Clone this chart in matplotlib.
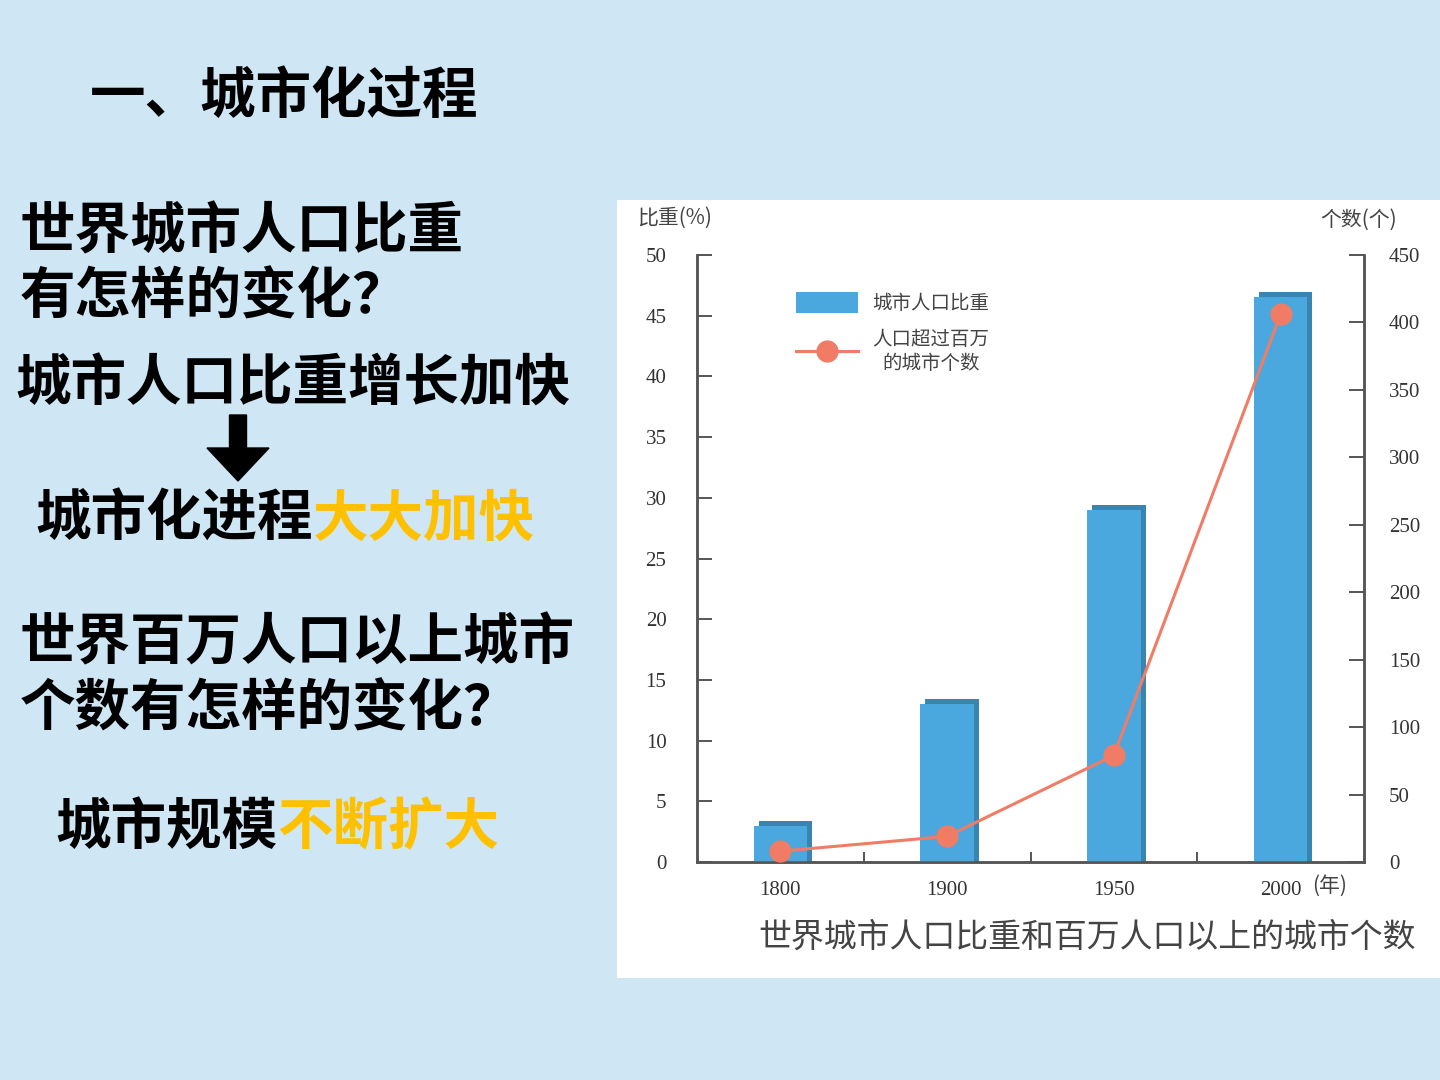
import matplotlib.pyplot as plt
import matplotlib.transforms as mtrans
from matplotlib.patches import Rectangle, FancyArrow, Patch
from matplotlib.lines import Line2D
import numpy as np

plt.rcParams['font.family'] = ['Noto Sans CJK SC', 'DejaVu Sans']

# data
years = ['1800', '1900', '1950', '2000']
urban_share = [3, 13, 29, 46.5]        # 城市人口比重 (%)
million_cities = [8, 19, 79, 406]      # 人口超过百万的城市个数
left_ticks = [0, 5, 10, 15, 20, 25, 30, 35, 40, 45, 50]
right_ticks = [0, 50, 100, 150, 200, 250, 300, 350, 400, 450]

W, H = 1440, 1080
BG = '#CFE7F4'
BLUE = '#4AA8DE'
BLUE_DARK = '#3A84B2'
RED = '#F07C66'
AXC = '#555555'
YEL = '#FFC000'


def fx(x):
    return x / W


def fy(y):
    return 1 - y / H


fig = plt.figure(figsize=(14.4, 10.8), dpi=100)
fig.patch.set_facecolor(BG)

# white chart panel
fig.add_artist(Rectangle((fx(617), fy(978)), fx(1440 - 617), (978 - 200) / H,
                         transform=fig.transFigure, facecolor='white',
                         edgecolor='none', zorder=0))

# slide text
big = dict(fontsize=40, fontweight='heavy', va='center', ha='left', color='black')
em = 55.6
fig.text(fx(90), fy(97), '一、城市化过程', **big)
fig.text(fx(20), fy(232), '世界城市人口比重', **big)
fig.text(fx(20), fy(298), '有怎样的变化？', **big)
fig.text(fx(15), fy(385), '城市人口比重增长加快', **big)
fig.text(fx(35), fy(520), '城市化进程', **big)
fig.text(fx(35 + 5 * em), fy(520), '大大加快', **{**big, 'color': YEL})
fig.text(fx(20), fy(643), '世界百万人口以上城市', **big)
fig.text(fx(20), fy(710), '个数有怎样的变化？', **big)
fig.text(fx(55), fy(828), '城市规模', **big)
fig.text(fx(55 + 4 * em), fy(828), '不断扩大', **{**big, 'color': YEL})

fig.add_artist(FancyArrow(2.38, (H - 415) / 100, 0, -0.33, width=0.17,
                          head_width=0.62, head_length=0.33,
                          length_includes_head=False,
                          transform=fig.dpi_scale_trans, color='black'))

# chart
ax = fig.add_axes([fx(697), fy(862), fx(1364 - 697), (862 - 255) / H])
ax.set_facecolor('none')
x = np.arange(len(years))
bw = 0.32

# darker back face, shifted up and right, reaching below the axis (clipped)
shadow = mtrans.offset_copy(ax.transData, fig=fig, x=5, y=5, units='dots')
ax.bar(x, np.array(urban_share) + 2, width=bw, bottom=-2, color=BLUE_DARK,
       transform=shadow, zorder=2)
ax.bar(x, urban_share, width=bw, color=BLUE, zorder=3, label='城市人口比重')

ax.set_xlim(-0.5, 3.5)
ax.set_ylim(0, 50)
ax.set_xticks(x)
ax.set_xticklabels(years, fontsize=15, family='Liberation Serif', color='#333333')
ax.set_xticks([0.5, 1.5, 2.5], minor=True)
ax.tick_params(axis='x', which='major', length=0, pad=14)
ax.tick_params(axis='x', which='minor', direction='in', length=7, width=1.4,
               color=AXC)
ax.set_yticks(left_ticks)
ax.set_yticklabels([str(v) for v in left_ticks], fontsize=15,
                   family='Liberation Serif', color='#333333')
ax.tick_params(axis='y', direction='in', length=11, width=1.4, color=AXC, pad=22)

ax.spines['top'].set_visible(False)
for s in ['left', 'bottom', 'right']:
    ax.spines[s].set_color(AXC)
    ax.spines[s].set_linewidth(1.8)

ax2 = ax.twinx()
ax2.set_ylim(0, 450)
ax2.plot(x, million_cities, color=RED, lw=2.2, marker='o', markersize=15,
         markerfacecolor=RED, markeredgecolor=RED, zorder=5,
         clip_on=False)
ax2.set_yticks(right_ticks)
ax2.set_yticklabels([str(v) for v in right_ticks], fontsize=15,
                    family='Liberation Serif', color='#333333')
ax2.tick_params(axis='y', direction='in', length=11, width=1.4, color=AXC, pad=18)
ax2.spines['top'].set_visible(False)
for s in ['left', 'bottom', 'right']:
    ax2.spines[s].set_color(AXC)
    ax2.spines[s].set_linewidth(1.8)

handles = [Patch(facecolor=BLUE, edgecolor='none'),
           Line2D([], [], color=RED, lw=2.2, marker='o', markersize=15)]
leg = ax2.legend(handles, ['城市人口比重', '人口超过百万\n的城市个数'],
                 loc='upper left', bbox_to_anchor=(fx(778), fy(274)),
                 bbox_transform=fig.transFigure, frameon=False, fontsize=14,
                 handlelength=3.2, handleheight=1.3, handletextpad=0.75,
                 labelspacing=0.8)
for t in leg.get_texts():
    t.set_color('#444444')
    t.set_multialignment('center')

# axis titles and caption
fig.text(fx(637), fy(218), '比重(%)', fontsize=15, color='#444444', va='center')
fig.text(fx(1320), fy(220), '个数(个)', fontsize=15, color='#444444', va='center')
fig.text(fx(1312), fy(886), '(年)', fontsize=15, color='#444444', va='center')
fig.text(fx(758), fy(938), '世界城市人口比重和百万人口以上的城市个数',
         fontsize=23.7, color='#444444', va='center', ha='left')

fig.savefig('out.png', dpi=100, facecolor=fig.get_facecolor())
